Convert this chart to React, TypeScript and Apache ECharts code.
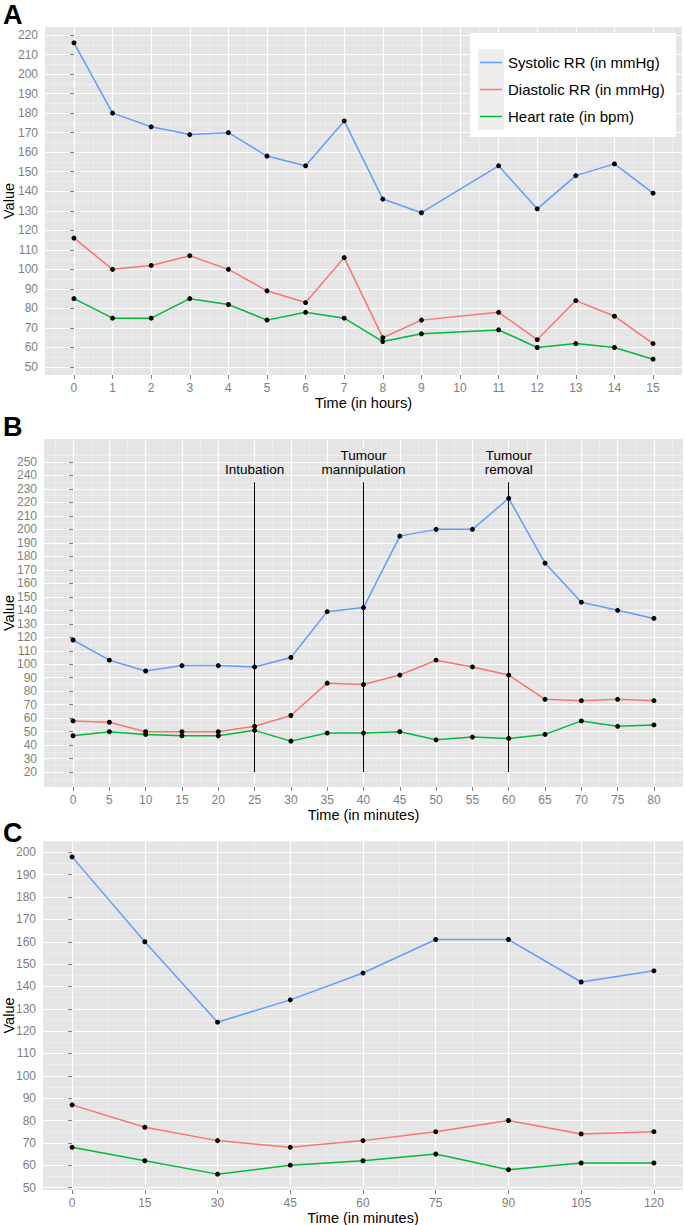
import React, { useEffect, useRef } from "react";
import * as echarts from "echarts";

// ---------- Panel A (time in hours) ----------
const hoursA = [0, 1, 2, 3, 4, 5, 6, 7, 8, 9, 11, 12, 13, 14, 15];
const systolicA = [216, 180, 173, 169, 170, 158, 153, 176, 136, 129, 153, 131, 148, 154, 139];
const diastolicA = [116, 100, 102, 107, 100, 89, 83, 106, 65, 74, 78, 64, 84, 76, 62];
const heartA = [85, 75, 75, 85, 82, 74, 78, 75, 63, 67, 69, 60, 62, 60, 54];
const xTicksA = [0, 1, 2, 3, 4, 5, 6, 7, 8, 9, 10, 11, 12, 13, 14, 15];
const yTicksA = [50, 60, 70, 80, 90, 100, 110, 120, 130, 140, 150, 160, 170, 180, 190, 200, 210, 220];

// ---------- Panel B (time in minutes) ----------
const minutesB = [0, 5, 10, 15, 20, 25, 30, 35, 40, 45, 50, 55, 60, 65, 70, 75, 80];
const systolicB = [118, 103, 95, 99, 99, 98, 105, 139, 142, 195, 200, 200, 223, 175, 146, 140, 134];
const diastolicB = [58, 57, 50, 50, 50, 54, 62, 86, 85, 92, 103, 98, 92, 74, 73, 74, 73];
const heartB = [47, 50, 48, 47, 47, 51, 43, 49, 49, 50, 44, 46, 45, 48, 58, 54, 55];
const xTicksB = [0, 5, 10, 15, 20, 25, 30, 35, 40, 45, 50, 55, 60, 65, 70, 75, 80];
const yTicksB = [20, 30, 40, 50, 60, 70, 80, 90, 100, 110, 120, 130, 140, 150, 160, 170, 180, 190, 200, 210, 220, 230, 240, 250];
const eventTimesB = [25, 40, 60];
const eventLabelsB = ["Intubation", "Tumour\nmannipulation", "Tumour\nremoval"];
const eventSpanB = [20, 235];

// ---------- Panel C (time in minutes) ----------
const minutesC = [0, 15, 30, 45, 60, 75, 90, 105, 120];
const systolicC = [198, 160, 124, 134, 146, 161, 161, 142, 147];
const diastolicC = [87, 77, 71, 68, 71, 75, 80, 74, 75];
const heartC = [68, 62, 56, 60, 62, 65, 58, 61, 61];
const xTicksC = [0, 15, 30, 45, 60, 75, 90, 105, 120];
const yTicksC = [50, 60, 70, 80, 90, 100, 110, 120, 130, 140, 150, 160, 170, 180, 190, 200];

const seriesNames = ["Systolic RR (in mmHg)", "Diastolic RR (in mmHg)", "Heart rate (in bpm)"];
const seriesColors = ["#619CFF", "#F8766D", "#00BA38"];

const FONT = "'Liberation Sans', Arial, Helvetica, sans-serif";
const TICK_GREY = "#7F7F7F";

function minorOf(ticks: number[], lo: number, hi: number): number[] {
  const step = ticks[1] - ticks[0];
  const out: number[] = [ticks[0] - step / 2];
  for (let i = 0; i < ticks.length; i++) out.push(ticks[i] + step / 2);
  return out.filter((v) => v >= lo && v <= hi);
}

const panels = [
  {
    letter: "A", letterY: 15, yNameGap: 29,
    grid: { left: 45, top: 27, width: 637, height: 348 },
    xRange: [-0.75, 15.75], yRange: [45.9, 224.1],
    xTicks: xTicksA, yTicks: yTicksA, xName: "Time (in hours)",
    x: hoursA, values: [systolicA, diastolicA, heartA],
  },
  {
    letter: "B", letterY: 427, yNameGap: 28,
    grid: { left: 44, top: 439, width: 639, height: 348 },
    xRange: [-4, 84], yRange: [9, 267],
    xTicks: xTicksB, yTicks: yTicksB, xName: "Time (in minutes)",
    x: minutesB, values: [systolicB, diastolicB, heartB],
  },
  {
    letter: "C", letterY: 833, yNameGap: 27,
    grid: { left: 43, top: 841, width: 640, height: 349 },
    xRange: [-6, 126], yRange: [48.9, 205.1],
    xTicks: xTicksC, yTicks: yTicksC, xName: "Time (in minutes)",
    x: minutesC, values: [systolicC, diastolicC, heartC],
  },
];

function buildOption() {
  const grid = panels.map((p) => ({
    ...p.grid,
    show: true,
    backgroundColor: "#E5E5E5",
    borderWidth: 0,
    containLabel: false,
    outerBoundsMode: "none",
  }));

  const xAxis: any[] = [];
  const yAxis: any[] = [];
  panels.forEach((p, i) => {
    xAxis.push({
      type: "value", gridIndex: i, position: "bottom",
      min: p.xRange[0], max: p.xRange[1],
      axisLine: { show: false },
      axisTick: { show: true, length: 4, lineStyle: { color: TICK_GREY }, customValues: p.xTicks },
      axisLabel: { customValues: p.xTicks, color: TICK_GREY, fontSize: 12, margin: 7, fontFamily: FONT },
      splitLine: { show: true, lineStyle: { color: "#FFFFFF", width: 1.2 } },
      name: p.xName, nameLocation: "middle", nameGap: 20, nameMoveOverlap: false,
      nameTextStyle: { color: "#000", fontSize: 14.5, fontFamily: FONT },
    });
    const xm = minorOf(p.xTicks, p.xRange[0], p.xRange[1]);
    xAxis.push({
      type: "value", gridIndex: i, position: "top",
      min: p.xRange[0], max: p.xRange[1],
      axisLine: { show: false },
      axisTick: { show: false, customValues: xm },
      axisLabel: { show: false, customValues: xm },
      splitLine: { show: true, lineStyle: { color: "#F2F2F2", width: 0.6 } },
    });
    yAxis.push({
      type: "value", gridIndex: i, position: "left",
      min: p.yRange[0], max: p.yRange[1],
      axisLine: { show: false },
      axisTick: { show: true, length: 4, lineStyle: { color: TICK_GREY }, customValues: p.yTicks },
      axisLabel: { customValues: p.yTicks, color: TICK_GREY, fontSize: 12, margin: 7, fontFamily: FONT },
      splitLine: { show: true, lineStyle: { color: "#FFFFFF", width: 1.2 } },
      name: "Value", nameLocation: "middle", nameGap: p.yNameGap, nameMoveOverlap: false,
      nameTextStyle: { color: "#000", fontSize: 14.5, fontFamily: FONT },
    });
    const ym = minorOf(p.yTicks, p.yRange[0], p.yRange[1]);
    yAxis.push({
      type: "value", gridIndex: i, position: "right",
      min: p.yRange[0], max: p.yRange[1],
      axisLine: { show: false },
      axisTick: { show: false, customValues: ym },
      axisLabel: { show: false, customValues: ym },
      splitLine: { show: true, lineStyle: { color: "#F2F2F2", width: 0.6 } },
    });
  });

  const series: any[] = [];
  panels.forEach((p, i) => {
    p.values.forEach((vals, k) => {
      series.push({
        type: "line",
        name: seriesNames[k],
        xAxisIndex: 2 * i, yAxisIndex: 2 * i,
        data: p.x.map((t, j) => [t, vals[j]]),
        symbol: "circle", symbolSize: 5, showSymbol: true,
        itemStyle: { color: "#000" },
        lineStyle: { color: seriesColors[k], width: 1.5 },
        z: 3,
        silent: true,
      });
    });
  });

  series.push({
    type: "line",
    name: "events",
    xAxisIndex: 2, yAxisIndex: 2,
    data: [],
    z: 2,
    markLine: {
      silent: true, symbol: "none", animation: false,
      lineStyle: { color: "#000", width: 1, type: "solid" },
      label: {
        show: true, position: "end", formatter: "{b}", color: "#000",
        fontSize: 13.5, lineHeight: 14, distance: 6, fontFamily: FONT,
      },
      emphasis: { disabled: true },
      data: eventTimesB.map((t, k) => [
        { coord: [t, eventSpanB[0]], name: eventLabelsB[k] },
        { coord: [t, eventSpanB[1]] },
      ]),
    },
  });

  const Z = 100;
  const legendChildren: any[] = [
    { type: "rect", z: Z, shape: { x: 470, y: 33, width: 206, height: 104 }, style: { fill: "#FFFFFF" } },
  ];
  seriesNames.forEach((n, k) => {
    const cy = 62.5 + 27 * k;
    legendChildren.push({ type: "rect", z: Z + 1, shape: { x: 478, y: cy - 13.5, width: 26, height: 27 }, style: { fill: "#EEEEEE" } });
    legendChildren.push({ type: "line", z: Z + 2, shape: { x1: 480, y1: cy, x2: 502, y2: cy }, style: { stroke: seriesColors[k], lineWidth: 1.5 } });
    legendChildren.push({
      type: "text", z: Z + 2, x: 508, y: cy,
      style: { text: n, fill: "#000", fontSize: 15, fontFamily: FONT, verticalAlign: "middle", align: "left" },
    });
  });

  const graphic: any[] = [
    { type: "group", z: Z, children: legendChildren },
    ...panels.map((p) => ({
      type: "text", x: 3, y: p.letterY, z: Z,
      style: { text: p.letter, fill: "#000", fontSize: 27, fontWeight: "bold", fontFamily: FONT, verticalAlign: "middle", align: "left" },
    })),
  ];

  return {
    animation: false,
    textStyle: { fontFamily: FONT },
    grid,
    xAxis,
    yAxis,
    series,
    graphic,
  };
}

export default function App() {
  const ref = useRef<HTMLDivElement | null>(null);
  useEffect(() => {
    if (!ref.current) return;
    const chart = echarts.init(ref.current, null, { renderer: "svg" });
    chart.setOption(buildOption() as any);
    return () => chart.dispose();
  }, []);
  return (
    <div
      ref={ref}
      style={{ position: "absolute", left: 0, top: 0, width: 685, height: 1225, background: "#fff" }}
    />
  );
}
